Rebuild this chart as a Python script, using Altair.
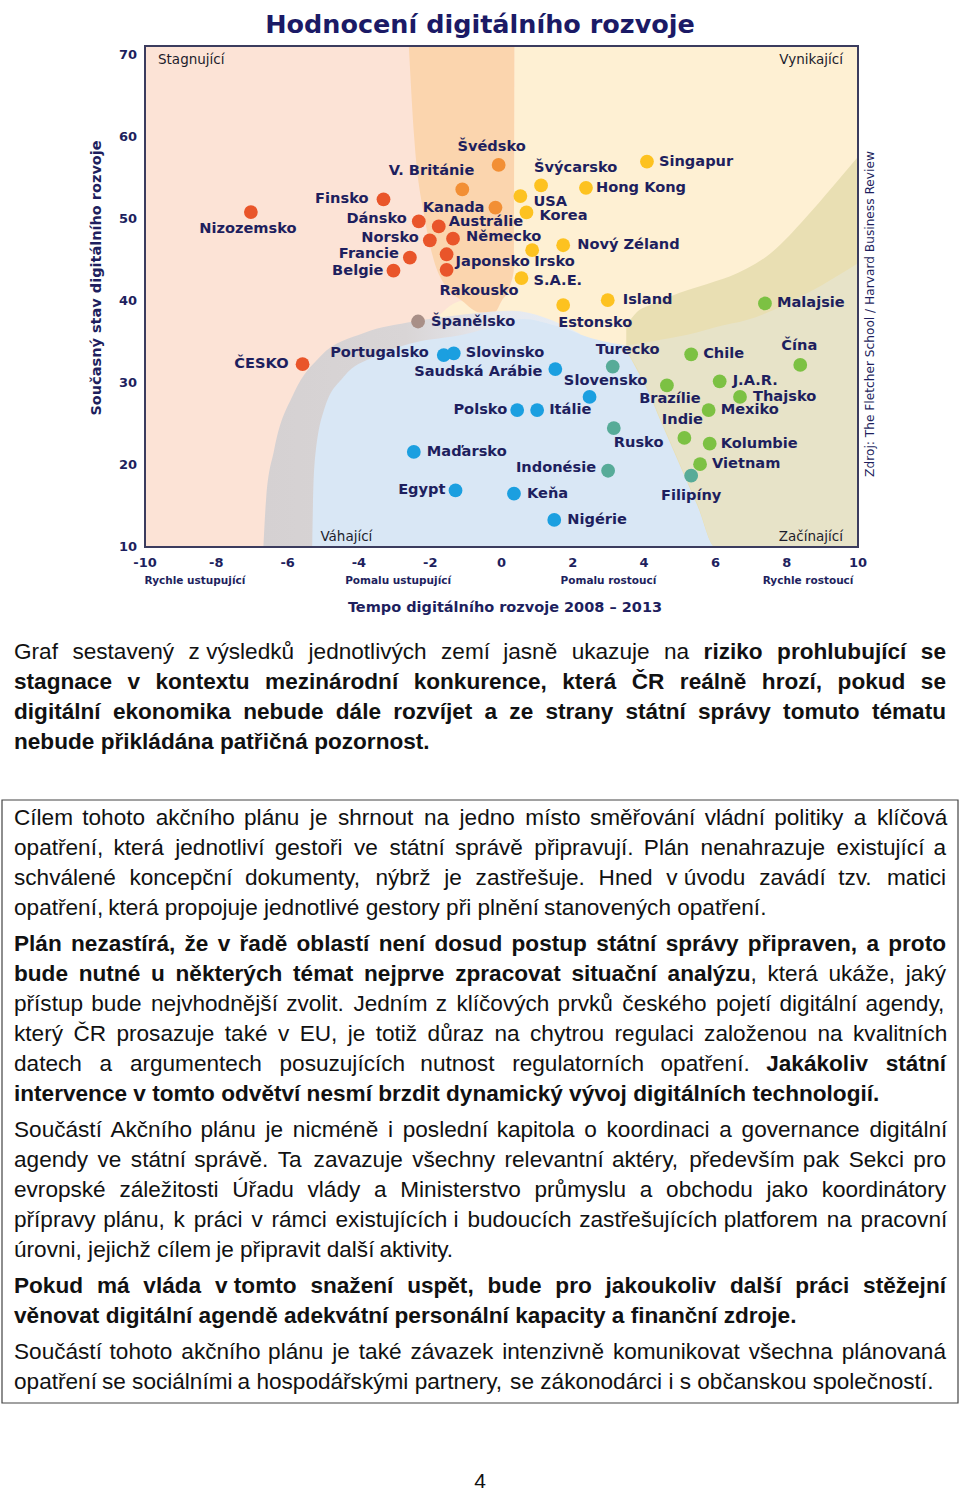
import unicodedata
import altair as alt
import pandas as pd

W, H = 960, 1492

# ---------------- chart data ----------------
COUNTRIES = ["Nizozemsko", "Finsko", "Dánsko", "Austrálie", "Norsko", "Německo", "Francie", "Japonsko",
             "Belgie", "Rakousko", "ČESKO",
             "Švédsko", "V. Británie", "Kanada",
             "Singapur", "Švýcarsko", "Hong Kong", "USA", "Korea", "Nový Zéland", "Irsko", "S.A.E.",
             "Island", "Estonsko",
             "Španělsko",
             "Portugalsko", "Slovinsko", "Saudská Arábie", "Polsko", "Itálie", "Slovensko", "Maďarsko",
             "Egypt", "Keňa", "Nigérie",
             "Turecko", "Rusko", "Indonésie", "Filipíny",
             "Malajsie", "Chile", "Čína", "Brazílie", "J.A.R.", "Thajsko", "Mexiko", "Indie", "Kolumbie",
             "Vietnam"]
TEMPO = [-7.03, -3.31, -2.32, -1.76, -2.01, -1.36, -2.57, -1.54, -3.03, -1.54, -5.58,
         -0.08, -1.10, -0.17,
         4.08, 1.11, 2.37, 0.53, 0.70, 1.73, 0.86, 0.56, 2.98, 1.73,
         -2.34,
         -1.62, -1.34, 1.51, 0.44, 1.00, 2.47, -2.46, -1.29, 0.35, 1.48,
         3.12, 3.15, 2.99, 5.32,
         7.39, 5.32, 8.38, 4.64, 6.12, 6.69, 5.81, 5.13, 5.84, 5.57]
STAV = [50.85, 52.4, 49.7, 49.1, 47.4, 47.6, 45.3, 45.7, 43.7, 43.8, 32.3,
        56.6, 53.6, 51.4,
        57.0, 54.1, 53.8, 52.8, 50.8, 46.8, 46.2, 42.8, 40.1, 39.5,
        37.5,
        33.4, 33.6, 31.7, 26.7, 26.7, 28.3, 21.6, 16.9, 16.5, 13.3,
        32.0, 24.5, 19.3, 18.7,
        39.7, 33.5, 32.2, 29.7, 30.2, 28.3, 26.7, 23.3, 22.6, 20.1]
SKUPINA = (["stag"] * 11 + ["stag2"] * 3 + ["vyn"] * 10 + ["hran"] + ["vah"] * 10
           + ["prech"] * 4 + ["zac"] * 10)

GROUP_NAMES = ["stag", "stag2", "vyn", "hran", "vah", "prech", "zac"]
GROUP_COLORS = ["#e9552a", "#f28f35", "#fdc220", "#a88f87", "#1b9fe0", "#57ab98", "#7cc143"]

# label placement relative to the dot (pixels) and alignment
LABEL_PLACE = {
    "Nizozemsko": (-3, 17, "center"), "Finsko": (-15, 0, "right"), "Dánsko": (-12, -2, "right"),
    "Austrálie": (10, -4, "left"), "Norsko": (-11, -2, "right"), "Německo": (13, -2, "left"),
    "Francie": (-11, -4, "right"), "Japonsko": (9, 8, "left"), "Belgie": (-10, 0, "right"),
    "Rakousko": (-7, 21, "left"), "ČESKO": (-14, 0, "right"), "Švédsko": (-7, -18, "center"),
    "V. Británie": (12, -18, "right"), "Kanada": (-11, 0, "right"), "Singapur": (12, 0, "left"),
    "Švýcarsko": (-7, -17, "left"), "Hong Kong": (10, 0, "left"), "USA": (13, 6, "left"),
    "Korea": (13, 4, "left"), "Nový Zéland": (14, 0, "left"), "Irsko": (2, 12, "left"),
    "S.A.E.": (12, 3, "left"), "Island": (15, 0, "left"), "Estonsko": (-5, 18, "left"),
    "Španělsko": (13, 0, "left"), "Portugalsko": (-15, -2, "right"), "Slovinsko": (12, 0, "left"),
    "Saudská Arábie": (-13, 3, "right"), "Polsko": (-10, 0, "right"), "Itálie": (12, 0, "left"),
    "Slovensko": (16, -16, "center"), "Maďarsko": (13, 0, "left"), "Egypt": (-10, 0, "right"),
    "Keňa": (13, 0, "left"), "Nigérie": (13, 0, "left"), "Turecko": (15, -17, "center"),
    "Rusko": (0, 15, "left"), "Indonésie": (-12, -3, "right"), "Filipíny": (0, 20, "center"),
    "Malajsie": (12, 0, "left"), "Chile": (12, 0, "left"), "Čína": (-1, -19, "center"),
    "Brazílie": (3, 14, "center"), "J.A.R.": (13, 0, "left"), "Thajsko": (13, 0, "left"),
    "Mexiko": (12, 0, "left"), "Indie": (-2, -18, "center"), "Kolumbie": (11, 0, "left"),
    "Vietnam": (12, 0, "left"),
}

X_TICKS = [-10, -8, -6, -4, -2, 0, 2, 4, 6, 8, 10]
Y_TICKS = [10, 20, 30, 40, 50, 60, 70]
TEMPO_PASMA = ["Rychle ustupující", "Pomalu ustupující", "Pomalu rostoucí", "Rychle rostoucí"]
TEMPO_PASMA_X = [-8.6, -2.9, 3.0, 8.6]
KVADRANTY = ["Stagnující", "Vynikající", "Váhající", "Začínající"]

# background regions (data units), each as x with lower / upper boundary
TOP = 71.1
BAND_X = [-2.6, -2.45, -2.15, -1.9, -1.6, -1.1, -0.6, -0.2, 0.0, 0.25, 0.35, 0.36]
BAND_LO = [71.1, 60, 50, 45, 42, 40, 38.6, 38.6, 40, 42, 44, 71.1]
YELLOW_X = [-1.8, -1.1, -0.6, -0.2, 0.0, 0.25, 0.35, 0.36, 10]
YELLOW_HI = [38.0, 40, 38.6, 38.6, 40, 42, 44, 71.1, 71.1]
GRAY_X = [-6.68, -6.6, -6.38, -5.82, -5.07, -3.86, -2.46, -1.52, -0.5, 0.3, 1.2, 2.2]
GRAY_TOP = [10, 16, 21.8, 28.8, 33.3, 36.1, 37.5, 38.1, 38.6, 38.8, 38.0, 36.0]
BLUE_X = [-5.31, -5.29, -5.25, -4.98, -4.42, -3.58, -2.46, -1.06, 0.0, 0.6, 1.5, 2.5, 3.6, 6.5, 10]
BLUE_TOP = [10, 15, 19.8, 26.7, 30.8, 33.2, 34.9, 35.9, 37.2, 37.8, 37.0, 35.5, 34.5, 33.5, 33.5]
BEIGE_X = [3.5, 3.9, 4.0, 4.5, 5.0, 5.5, 6.0, 6.4, 7.6, 8.5, 9.3, 10]
BEIGE_LO = [34, 30.8, 30, 25, 20, 15, 10, 10, 10, 10, 10, 10]
BEIGE_HI = [37, 39, 39.2, 40.1, 41, 41.7, 42.4, 43, 46, 50, 54, 57.6]
INNER_X = [3.56, 4.0, 4.5, 5.0, 5.5, 6.0, 6.9, 8.6, 10]
INNER_LO = [33.6, 30.2, 25.2, 20.2, 15.2, 10, 10, 10, 10]
INNER_HI = [34.6, 34.9, 35.3, 35.7, 36.2, 36.8, 37.7, 41, 44.6]

# ---------------- page texts ----------------
TITLE = "Hodnocení digitálního rozvoje"
X_TITLE = "Tempo digitálního rozvoje 2008 – 2013"
Y_TITLE = "Současný stav digitálního rozvoje"
SOURCE = "Zdroj: The Fletcher School / Harvard Business Review"
PAGE_NO = "4"

PARAGRAPHS = [
    [
        [("Graf sestavený z\u00a0výsledků jednotlivých zemí jasně ukazuje na ", False), ("riziko prohlubující se", True)],
        [("stagnace v kontextu mezinárodní konkurence, která ČR reálně hrozí, pokud se", True)],
        [("digitální ekonomika nebude dále rozvíjet a ze strany státní správy tomuto tématu", True)],
        [("nebude přikládána patřičná pozornost.", True)],
    ],
    [
        [("Cílem tohoto akčního plánu je shrnout na jedno místo směřování vládní politiky a klíčová", False)],
        [("opatření, která jednotliví gestoři ve státní správě připravují. Plán nenahrazuje existující a", False)],
        [("schválené koncepční dokumenty, nýbrž je zastřešuje. Hned v\u00a0úvodu zavádí tzv. matici", False)],
        [("opatření, která propojuje jednotlivé gestory při plnění stanovených opatření.", False)],
    ],
    [
        [("Plán nezastírá, že v řadě oblastí není dosud postup státní správy připraven, a proto", True)],
        [("bude nutné u některých témat nejprve zpracovat situační analýzu", True), (", která ukáže, jaký", False)],
        [("přístup bude nejvhodnější zvolit. Jedním z klíčových prvků českého pojetí digitální agendy,", False)],
        [("který ČR prosazuje také v EU, je totiž důraz na chytrou regulaci založenou na kvalitních", False)],
        [("datech a argumentech posuzujících nutnost regulatorních opatření. ", False), ("Jakákoliv státní", True)],
        [("intervence v tomto odvětví nesmí brzdit dynamický vývoj digitálních technologií.", True)],
    ],
    [
        [("Součástí Akčního plánu je nicméně i poslední kapitola o koordinaci a governance digitální", False)],
        [("agendy ve státní správě. Ta zavazuje všechny relevantní aktéry, především pak Sekci pro", False)],
        [("evropské záležitosti Úřadu vlády a Ministerstvo průmyslu a obchodu jako koordinátory", False)],
        [("přípravy plánu, k práci v rámci existujících i budoucích zastřešujících platforem na pracovní", False)],
        [("úrovni, jejichž cílem je připravit další aktivity.", False)],
    ],
    [
        [("Pokud má vláda v\u00a0tomto snažení uspět, bude pro jakoukoliv další práci stěžejní", True)],
        [("věnovat digitální agendě adekvátní personální kapacity a finanční zdroje.", True)],
    ],
    [
        [("Součástí tohoto akčního plánu je také závazek intenzivně komunikovat všechna plánovaná", False)],
        [("opatření se sociálními a hospodářskými partnery, se zákonodárci i s občanskou společností.", False)],
    ],
]
PARA_START = [652, 818, 944, 1130, 1286, 1352]

# ---------------- geometry ----------------
PL, PR, PY10, PY70 = 145, 858, 547, 55
KX = (PR - PL) / 20.0
KY = (PY10 - PY70) / 60.0
XDOM = [-10 - PL / KX, 10 + (W - PR) / KX]
YDOM = [10 - (H - PY10) / KY, 70 + PY70 / KY]
FRAME_TOP = 70 + (PY70 - 46) / KY
xs = alt.Scale(domain=XDOM, nice=False, zero=False)
ys = alt.Scale(domain=YDOM, nice=False, zero=False)
px_s = alt.Scale(domain=[0, W], nice=False, zero=False)
py_s = alt.Scale(domain=[0, H], nice=False, zero=False, reverse=True)

NAVY = "#1e1f5e"
LABEL_FONT = "DejaVu Sans"
BODY_FONT = "Liberation Sans"
FS_BODY = 22.6
LINE = 30
TEXT_L, TEXT_R = 14, 946
BOX = dict(x0=2, x1=958, y0=800, y1=1403)

# ---------------- Arial metrics for justification ----------------
LOW = "abcdefghijklmnopqrstuvwxyz"
UP = "ABCDEFGHIJKLMNOPQRSTUVWXYZ"
REG = dict(zip(LOW, [556, 556, 500, 556, 556, 278, 556, 556, 222, 222, 500, 222, 833, 556, 556, 556, 556,
                     333, 500, 278, 556, 500, 722, 500, 500, 500]))
REG.update(zip(UP, [667, 667, 722, 722, 667, 611, 778, 722, 278, 500, 667, 556, 833, 722, 778, 667, 778,
                    722, 667, 611, 722, 667, 944, 667, 667, 611]))
REG.update({" ": 278, "\u00a0": 278, ",": 278, ".": 278, "-": 333, ":": 278, ";": 278, "(": 333,
            ")": 333, "–": 556, "/": 278})
REG.update({d: 556 for d in "0123456789"})
BLD = dict(zip(LOW, [556, 611, 556, 611, 556, 333, 611, 611, 278, 278, 556, 278, 889, 611, 611, 611, 611,
                     389, 556, 333, 611, 556, 778, 556, 556, 500]))
BLD.update(zip(UP, [722, 722, 722, 722, 667, 611, 778, 722, 278, 556, 722, 611, 833, 722, 778, 667, 778,
                    722, 667, 611, 722, 667, 944, 667, 667, 611]))
BLD.update({" ": 278, "\u00a0": 278, ",": 278, ".": 278, "-": 333, ":": 333, ";": 333, "(": 333,
            ")": 333, "–": 556, "/": 278})
BLD.update({d: 556 for d in "0123456789"})


def text_width(s, bold, fs):
    tab = BLD if bold else REG
    tot = 0
    for ch in s:
        if ch in tab:
            tot += tab[ch]
        else:
            base = unicodedata.normalize("NFD", ch)[0]
            tot += tab.get(base, 556)
    return tot * fs / 1000.0


def tokens_of(runs):
    toks = []
    prev_space = True
    for text, bold in runs:
        parts = text.split(" ")
        for i, p in enumerate(parts):
            if i > 0:
                prev_space = True
            if p == "":
                continue
            glued = (not prev_space) and len(toks) > 0
            toks.append((p, bold, glued))
            prev_space = False
    return toks


def layout_line(runs, y, justify):
    toks = tokens_of(runs)
    groups = []
    for t in toks:
        if t[2] and groups:
            groups[-1].append(t)
        else:
            groups.append([t])
    fs = FS_BODY
    avail = TEXT_R - TEXT_L
    n = len(groups) - 1

    def gw(g, f):
        return sum(text_width(t[0], t[1], f) for t in g)

    nat = sum(gw(g, fs) for g in groups) + n * 0.278 * fs
    if nat > avail:
        fs = fs * avail / nat * 0.995
    widths = [gw(g, fs) for g in groups]
    gap = (avail - sum(widths)) / n if (justify and n > 0) else 0.278 * fs
    rows = []
    x = TEXT_L
    for g, w in zip(groups, widths):
        cx = x
        for t in g:
            rows.append(dict(px=cx, py=y, text=t[0], w="bold" if t[1] else "normal", fs=fs))
            cx += text_width(t[0], t[1], fs)
        x += w + gap
    return rows


body_rows = []
for para, y0 in zip(PARAGRAPHS, PARA_START):
    for i, line in enumerate(para):
        body_rows += layout_line(line, y0 + i * LINE, justify=(i < len(para) - 1))
body_df = pd.DataFrame(body_rows)

# ---------------- data layer ----------------
pts = pd.DataFrame({"zeme": COUNTRIES, "tempo": TEMPO, "stav": STAV, "skupina": SKUPINA})
pts["lx"] = [x + LABEL_PLACE[n][0] / KX for n, x in zip(COUNTRIES, TEMPO)]
pts["ly"] = [y - LABEL_PLACE[n][1] / KY for n, y in zip(COUNTRIES, STAV)]
pts["al"] = [LABEL_PLACE[n][2] for n in COUNTRIES]

frame_df = pd.DataFrame([dict(x0=-10, x1=10, y0=10, y1=FRAME_TOP)])

bg_pink = alt.Chart(frame_df).mark_rect(color="#fce3d6").encode(
    x=alt.X("x0:Q", scale=xs, axis=None), x2="x1:Q",
    y=alt.Y("y0:Q", scale=ys, axis=None), y2="y1:Q")


def region(xv, lo, hi, color):
    df = pd.DataFrame({"x": xv, "lo": lo, "hi": hi})
    return alt.Chart(df).mark_area(interpolate="monotone", color=color).encode(
        x=alt.X("x:Q", scale=xs, axis=None),
        y=alt.Y("hi:Q", scale=ys, axis=None), y2="lo:Q")


yellow = region(YELLOW_X, [33] * len(YELLOW_X), YELLOW_HI, "#fef0d3")
band = region(BAND_X, BAND_LO, [TOP] * len(BAND_X), "#fbd5ae")

gray = alt.Chart(pd.DataFrame({"x": GRAY_X, "top": GRAY_TOP})).mark_area(
    interpolate="monotone",
    color=alt.Gradient(gradient="linear",
                       stops=[alt.GradientStop(color="#d5d1d2", offset=0),
                              alt.GradientStop(color="#d9d5d6", offset=0.45),
                              alt.GradientStop(color="#e7e9ef", offset=0.75),
                              alt.GradientStop(color="#e4ecf5", offset=1)],
                       x1=0, x2=1, y1=0, y2=0)).encode(
    x=alt.X("x:Q", scale=xs, axis=None), y=alt.Y("top:Q", scale=ys, axis=None), y2=alt.datum(10))

blue = alt.Chart(pd.DataFrame({"x": BLUE_X, "top": BLUE_TOP})).mark_area(
    interpolate="monotone", color="#d9e7f5").encode(
    x=alt.X("x:Q", scale=xs, axis=None), y=alt.Y("top:Q", scale=ys, axis=None), y2=alt.datum(10))

beige = region(BEIGE_X, BEIGE_LO, BEIGE_HI, "#e9dfb3")
beige_in = region(INNER_X, INNER_LO, INNER_HI, "#e7e3c8")

frame = alt.Chart(frame_df).mark_rect(fillOpacity=0, stroke="#3b3c5e", strokeWidth=2).encode(
    x=alt.X("x0:Q", scale=xs, axis=None), x2="x1:Q",
    y=alt.Y("y0:Q", scale=ys, axis=None), y2="y1:Q")

dots = alt.Chart(pts).mark_circle(size=190, opacity=1).encode(
    x=alt.X("tempo:Q", scale=xs, axis=None), y=alt.Y("stav:Q", scale=ys, axis=None),
    color=alt.Color("skupina:N", scale=alt.Scale(domain=GROUP_NAMES, range=GROUP_COLORS), legend=None))

label_layers = []
for al in ["left", "right", "center"]:
    label_layers.append(
        alt.Chart(pts).transform_filter(alt.datum.al == al).mark_text(
            align=al, baseline="middle", font=LABEL_FONT, fontWeight="bold", fontSize=14.6, color=NAVY
        ).encode(x=alt.X("lx:Q", scale=xs, axis=None), y=alt.Y("ly:Q", scale=ys, axis=None), text="zeme:N"))

xt = pd.DataFrame({"v": X_TICKS, "lab": [str(v) for v in X_TICKS], "yy": 10 - 16 / KY})
yt = pd.DataFrame({"v": Y_TICKS, "lab": [str(v) for v in Y_TICKS], "xx": -10 - 8 / KX})
xlab = alt.Chart(xt).mark_text(align="center", baseline="middle", font=LABEL_FONT, fontWeight="bold",
                               fontSize=13, color=NAVY).encode(
    x=alt.X("v:Q", scale=xs, axis=None), y=alt.Y("yy:Q", scale=ys, axis=None), text="lab:N")
ylab = alt.Chart(yt).mark_text(align="right", baseline="middle", font=LABEL_FONT, fontWeight="bold",
                               fontSize=13, color=NAVY).encode(
    x=alt.X("xx:Q", scale=xs, axis=None), y=alt.Y("v:Q", scale=ys, axis=None), text="lab:N")

pasma = pd.DataFrame({"t": TEMPO_PASMA, "x": TEMPO_PASMA_X, "yy": 10 - 34 / KY})
pasma_l = alt.Chart(pasma).mark_text(align="center", baseline="middle", font=LABEL_FONT, fontWeight="bold",
                                     fontSize=10.5, color=NAVY).encode(
    x=alt.X("x:Q", scale=xs, axis=None), y=alt.Y("yy:Q", scale=ys, axis=None), text="t:N")

quad = pd.DataFrame({
    "t": KVADRANTY,
    "x": [-10 + 13 / KX, 10 - 15 / KX, -5.08, 10 - 15 / KX],
    "y": [FRAME_TOP - 14 / KY, FRAME_TOP - 14 / KY, 10 + 10 / KY, 10 + 10 / KY],
    "al": ["left", "right", "left", "right"]})
quad_layers = [
    alt.Chart(quad).transform_filter(alt.datum.al == al).mark_text(
        align=al, baseline="middle", font=LABEL_FONT, fontSize=13.5, color="#1c1c2c").encode(
        x=alt.X("x:Q", scale=xs, axis=None), y=alt.Y("y:Q", scale=ys, axis=None), text="t:N")
    for al in ["left", "right"]]

data_chart = alt.layer(bg_pink, yellow, band, gray, blue, beige, beige_in, frame, dots,
                       *label_layers, xlab, ylab, pasma_l, *quad_layers)

# ---------------- page (pixel) layer ----------------
def ptext(df, **kw):
    enc = dict(x=alt.X("px:Q", scale=px_s, axis=None), y=alt.Y("py:Q", scale=py_s, axis=None), text="text:N")
    return alt.Chart(df).mark_text(**kw).encode(**enc)


title_l = ptext(pd.DataFrame([dict(px=480, py=25, text=TITLE)]), align="center", baseline="middle",
                font=LABEL_FONT, fontWeight="bold", fontSize=25.5, color="#1b1a66")
xtitle_l = ptext(pd.DataFrame([dict(px=505, py=608, text=X_TITLE)]), align="center", baseline="middle",
                 font=LABEL_FONT, fontWeight="bold", fontSize=14.5, color=NAVY)
ytitle_l = ptext(pd.DataFrame([dict(px=97, py=278, text=Y_TITLE)]), align="center", baseline="middle",
                 font=LABEL_FONT, fontWeight="bold", fontSize=14.5, color=NAVY, angle=270)
source_l = ptext(pd.DataFrame([dict(px=870, py=314, text=SOURCE)]), align="center", baseline="middle",
                 font=LABEL_FONT, fontSize=12.2, color=NAVY, angle=270)
page_l = ptext(pd.DataFrame([dict(px=480, py=1482, text=PAGE_NO)]), align="center", baseline="middle",
               font=BODY_FONT, fontSize=21, color="#111111")

box_l = alt.Chart(pd.DataFrame([BOX])).mark_rect(fillOpacity=0, stroke="#444444", strokeWidth=1.2).encode(
    x=alt.X("x0:Q", scale=px_s, axis=None), x2="x1:Q",
    y=alt.Y("y0:Q", scale=py_s, axis=None), y2="y1:Q")

body_layers = []
for wgt in ["normal", "bold"]:
    body_layers.append(
        alt.Chart(body_df).transform_filter(alt.datum.w == wgt).mark_text(
            align="left", baseline="middle", font=BODY_FONT, fontWeight=wgt, color="#111111").encode(
            x=alt.X("px:Q", scale=px_s, axis=None), y=alt.Y("py:Q", scale=py_s, axis=None),
            text="text:N", size=alt.Size("fs:Q", scale=None)))

page_chart = alt.layer(title_l, xtitle_l, ytitle_l, source_l, box_l, *body_layers, page_l)

chart = alt.layer(data_chart, page_chart).resolve_scale(
    x="independent", y="independent", color="independent", size="independent"
).properties(
    width=W, height=H, padding=0, background="white",
    autosize=alt.AutoSizeParams(type="none")
).configure_view(stroke=None)

chart.save("out.html", embed_options={"renderer": "svg", "actions": False})
